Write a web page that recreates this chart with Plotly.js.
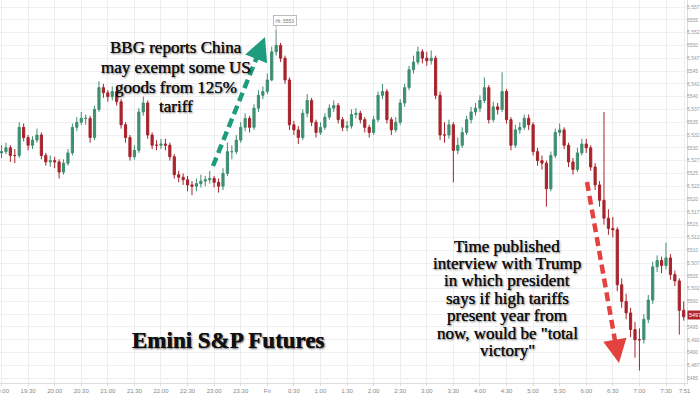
<!DOCTYPE html>
<html>
<head>
<meta charset="utf-8">
<script src="https://cdn.plot.ly/plotly-3.0.1.min.js"></script>
<style>
html,body{margin:0;padding:0;background:#fff;}
#chart{width:700px;height:394px;}
</style>
</head>
<body>
<div id="chart"></div>
<script>
// 5-minute candles, Emini S&P futures, 19:00 -> 7:50 (minutes after 19:00)
var stepMinutes = 5;

var opens = [5529.0,5529.25,5530.0,5528.5,5528.5,5534.0,5532.0,5530.5,5531.5,5532.5,
5528.5,5527.25,5527.5,5527.25,5525.25,5527.0,5529.0,5534.0,5535.0,5535.75,
5535.75,5532.0,5537.5,5541.75,5540.75,5540.0,5541.0,5539.0,5534.5,5532.0,
5528.25,5529.5,5537.0,5538.75,5532.5,5530.5,5530.5,5530.75,5530.5,5528.25,
5524.75,5524.25,5523.75,5522.75,5522.5,5523.0,5523.5,5523.75,5524.0,5523.25,
5522.5,5525.0,5529.25,5529.25,5531.5,5534.0,5535.75,5534.0,5537.75,5540.25,
5541.0,5543.25,5548.75,5550.0,5547.5,5543.25,5534.5,5533.5,5532.0,5536.75,
5539.25,5535.0,5533.0,5534.0,5536.0,5537.75,5538.25,5535.5,5534.0,5534.25,
5536.5,5536.75,5535.5,5534.0,5533.0,5535.5,5540.25,5541.0,5535.5,5533.5,
5535.0,5538.75,5541.75,5545.25,5546.75,5548.75,5547.5,5547.0,5547.5,5540.25,
5532.5,5532.5,5534.5,5529.5,5530.5,5533.0,5535.5,5537.0,5537.75,5539.25,
5541.75,5535.5,5538.0,5537.5,5541.0,5535.5,5530.5,5533.5,5534.0,5535.75,
5534.5,5529.25,5527.5,5527.0,5522.0,5528.5,5533.0,5533.5,5530.5,5527.25,
5525.75,5529.0,5530.75,5530.0,5526.25,5522.75,5519.75,5516.25,5514.25,5514.0,
5503.25,5500.0,5497.75,5494.5,5492.5,5492.5,5496.5,5500.25,5506.75,5508.0,
5507.0,5508.5,5505.25,5504.0,5498.25];

var highs = [5530.5,5531.0,5530.5,5529.75,5535.0,5534.75,5532.5,5532.25,5533.75,5533.0,
5529.0,5528.5,5528.25,5527.75,5527.75,5529.75,5534.75,5536.0,5537.0,5536.5,
5536.25,5538.25,5543.0,5542.5,5541.25,5542.0,5541.5,5539.5,5535.0,5532.5,
5530.5,5537.75,5540.0,5539.25,5533.0,5531.5,5531.75,5531.75,5531.0,5528.75,
5525.5,5525.0,5524.5,5523.5,5524.0,5524.75,5524.5,5525.5,5524.5,5524.0,
5526.0,5531.0,5530.5,5532.5,5535.0,5536.75,5536.25,5538.5,5541.25,5542.0,
5544.5,5549.75,5553.0,5550.5,5548.0,5543.75,5535.25,5534.25,5537.5,5540.5,
5539.75,5535.5,5535.0,5536.75,5538.5,5539.25,5538.75,5536.0,5535.25,5537.5,
5537.75,5537.25,5536.0,5534.5,5536.25,5541.0,5542.5,5541.5,5536.0,5536.0,
5539.5,5542.5,5546.0,5548.0,5549.75,5549.25,5548.75,5549.0,5548.0,5541.0,
5535.0,5535.5,5535.0,5532.0,5534.0,5536.25,5538.0,5538.75,5540.25,5543.75,
5542.25,5539.0,5538.75,5544.75,5541.5,5536.0,5534.5,5535.0,5536.5,5536.5,
5535.0,5530.0,5528.5,5527.5,5529.25,5533.75,5534.75,5534.0,5531.0,5528.0,
5530.0,5531.75,5531.75,5530.5,5527.0,5523.5,5537.0,5518.0,5516.5,5514.5,
5504.5,5501.5,5498.75,5496.0,5494.75,5497.5,5501.25,5507.75,5509.0,5508.75,
5511.5,5509.25,5506.0,5504.5,5500.0];

var lows = [5528.0,5528.75,5527.25,5527.0,5528.0,5531.25,5529.5,5529.75,5531.0,5527.75,
5526.5,5526.25,5526.0,5524.0,5524.75,5526.5,5528.5,5533.25,5534.5,5534.5,
5531.0,5531.5,5537.0,5539.75,5539.0,5539.25,5538.25,5533.75,5531.0,5527.5,
5527.75,5529.0,5536.25,5531.75,5529.75,5529.5,5529.75,5529.5,5527.5,5524.0,
5523.25,5522.75,5521.5,5520.75,5521.5,5522.25,5522.5,5523.0,5522.25,5521.25,
5521.75,5524.5,5527.75,5528.75,5531.0,5533.25,5533.0,5533.5,5537.0,5539.5,
5540.5,5543.0,5548.0,5546.75,5542.5,5533.5,5532.5,5530.75,5531.5,5536.0,
5534.25,5532.0,5532.5,5533.5,5535.5,5537.0,5534.75,5533.25,5533.25,5533.75,
5535.75,5534.75,5533.0,5532.0,5532.5,5535.0,5539.5,5534.75,5532.5,5533.0,
5534.5,5538.0,5541.25,5544.5,5546.25,5546.5,5546.0,5546.25,5539.5,5531.5,
5531.0,5531.75,5523.25,5528.75,5530.0,5532.5,5534.75,5536.25,5537.0,5538.75,
5534.75,5535.0,5536.5,5537.0,5534.75,5529.5,5530.0,5532.75,5533.5,5533.5,
5528.5,5526.5,5525.75,5518.5,5521.5,5528.0,5532.25,5529.75,5526.25,5524.75,
5525.25,5528.5,5529.0,5525.5,5521.75,5518.5,5515.0,5513.0,5512.5,5502.0,
5498.75,5496.5,5493.0,5489.0,5486.5,5491.75,5495.75,5499.5,5505.75,5505.5,
5506.25,5504.25,5503.0,5493.5,5496.25];

var closes = [5529.25,5530.0,5528.5,5528.5,5534.0,5532.0,5530.5,5531.5,5532.5,5528.5,
5527.25,5527.5,5527.25,5525.25,5527.0,5529.0,5534.0,5535.0,5535.75,5535.75,
5532.0,5537.5,5541.75,5540.75,5540.0,5541.0,5539.0,5534.5,5532.0,5528.25,
5529.5,5537.0,5538.75,5532.5,5530.5,5530.5,5530.75,5530.5,5528.25,5524.75,
5524.25,5523.75,5522.75,5522.5,5523.0,5523.5,5523.75,5524.0,5523.25,5522.5,
5525.0,5529.25,5529.25,5531.5,5534.0,5535.75,5534.0,5537.75,5540.25,5541.0,
5543.25,5548.75,5550.0,5547.5,5543.25,5534.5,5533.5,5532.0,5536.75,5539.25,
5535.0,5533.0,5534.0,5536.0,5537.75,5538.25,5535.5,5534.0,5534.25,5536.5,
5536.75,5535.5,5534.0,5533.0,5535.5,5540.25,5541.0,5535.5,5533.5,5535.0,
5538.75,5541.75,5545.25,5546.75,5548.75,5547.5,5547.0,5547.5,5540.25,5532.5,
5532.5,5534.5,5529.5,5530.5,5533.0,5535.5,5537.0,5537.75,5539.25,5541.75,
5535.5,5538.0,5537.5,5541.0,5535.5,5530.5,5533.5,5534.0,5535.75,5534.5,
5529.25,5527.5,5527.0,5522.0,5528.5,5533.0,5533.5,5530.5,5527.25,5525.75,
5529.0,5530.75,5530.0,5526.25,5522.75,5519.75,5516.25,5514.25,5514.0,5503.25,
5500.0,5497.75,5494.5,5492.5,5492.5,5496.5,5500.25,5506.75,5508.0,5507.0,
5508.5,5505.25,5504.0,5498.25,5497.0];

var tickMinutes = [0,30,60,90,120,150,180,210,240,270,300,330,360,390,420,450,480,510,540,570,600,630,660,690,720,750,771];
var tickLabels = ["19:00","19:30","20:00","20:30","21:00","21:30","22:00","22:30","23:00","23:30","Fri","0:30","1:00","1:30","2:00","2:30","3:00","3:30","4:00","4:30","5:00","5:30","6:00","6:30","7:00","7:30","7:51"];

var hiValue = 5553;
var lastPrice = 5497.25;

var minutes = [];
for (var i = 0; i < closes.length; i++) minutes.push(i * stepMinutes);

// plot-area pixel helpers for annotation placement
var PW = 687, PH = 383;
function px(x){ return x / PW; }
function py(y){ return 1 - y / PH; }

var trace = {
  type: 'candlestick',
  x: minutes, open: opens, high: highs, low: lows, close: closes,
  increasing: {line: {color: '#3e8f70', width: 1}, fillcolor: '#3e8f70'},
  decreasing: {line: {color: '#a8232b', width: 1}, fillcolor: '#a8232b'},
  whiskerwidth: 0,
  hoverinfo: 'skip',
  showlegend: false
};

var hiIdx = 0;
for (var j = 0; j < highs.length; j++) if (highs[j] > highs[hiIdx]) hiIdx = j;

var serif = 'Liberation Serif, Times New Roman, serif';
var shadow = '1px 1px 2px rgba(0,0,0,0.6), 0 0 0.6px rgba(0,0,0,0.9)';

var annotations = [];
function line(text, x, y, size, bold){
  annotations.push({xref:'paper', yref:'paper', x:px(x), y:py(y), text:text, showarrow:false,
    xanchor:'center', yanchor:'middle', borderpad:0,
    font:{family:serif, size:size, color:'#111', weight: bold ? 700 : 400, shadow: shadow}});
}
var bbg = ["BBG reports China","may exempt some US","goods from 125%","tariff"];
var bbgY = [47, 67, 87, 107];
for (var a = 0; a < bbg.length; a++) line(bbg[a], 176, bbgY[a], 17, false);

var tm = ["Time published","interview with Trump","in which president","says if high tariffs","present year from","now, would be \"total","victory\""];
for (var b = 0; b < tm.length; b++) line(tm[b], 507, 246 + b * 17.4, 17, false);

line("Emini S&P Futures", 228, 340, 23, true);

// Hi label
annotations.push({xref:'x', yref:'paper', x: minutes[hiIdx], y: py(20.5), xanchor:'left', yanchor:'middle',
  text:'Hi: ' + hiValue, showarrow:false, font:{family:'Arial, Liberation Sans, sans-serif', size:5, color:'#777'},
  bgcolor:'#fff', bordercolor:'#bbb', borderwidth:1, borderpad:1.5, xshift:-3});

// last price tag
annotations.push({xref:'paper', yref:'y', x:1, y:lastPrice, xanchor:'left', yanchor:'middle',
  text:lastPrice.toFixed(2), showarrow:false, font:{family:'Arial, Liberation Sans, sans-serif', size:5.5, color:'#fff'},
  bgcolor:'#b0262e', borderpad:1, xshift:0});

// arrowheads
function head(tipX, tipY, tailX, tailY, color){
  var dx = tailX - tipX, dy = tailY - tipY, L = Math.sqrt(dx*dx+dy*dy);
  annotations.push({xref:'paper', yref:'paper', x:px(tipX), y:py(tipY), ax: dx/L*15, ay: dy/L*15,
    text:'', showarrow:true, arrowhead:2, arrowsize:1.05, arrowwidth:4.5, arrowcolor:color, standoff:0});
}
var teal = '#1f9c7d', red = '#e3423f';
head(265, 37, 213, 166, teal);
head(619, 363, 587, 182, red);

var shapes = [
  {type:'line', xref:'paper', yref:'paper', x0:px(213), y0:py(166), x1:px(261), y1:py(47),
   line:{color:teal, width:4.5, dash:'9px,5px'}},
  {type:'line', xref:'paper', yref:'paper', x0:px(587), y0:py(182), x1:px(617), y1:py(352),
   line:{color:red, width:4.5, dash:'9px,5px'}},
  {type:'line', xref:'x', yref:'paper', x0:minutes[hiIdx], x1:minutes[hiIdx], y0:py(44), y1:py(24.5),
   line:{color:'#bbb', width:1}}
];

var layout = {
  width:700, height:394,
  margin:{l:0, r:13, t:0, b:11, pad:0},
  paper_bgcolor:'#fff', plot_bgcolor:'#fff',
  showlegend:false,
  xaxis:{type:'linear', range:[-1.7, 773.7], rangeslider:{visible:false},
    tickmode:'array', tickvals:tickMinutes, ticktext:tickLabels, ticklabeloverflow:'allow',
    tickfont:{family:'Arial, Liberation Sans, sans-serif', size:6, color:'#888'},
    showgrid:true, gridcolor:'#ededed', gridwidth:1, zeroline:false,
    showline:true, linecolor:'#ddd', linewidth:1, ticks:'outside', ticklen:2, tickcolor:'#ddd', fixedrange:true},
  yaxis:{side:'right', range:[5484.06, 5558.87], tick0:5485, dtick:2.5, ticklabeloverflow:'allow',
    tickfont:{family:'Arial, Liberation Sans, sans-serif', size:5, color:'#999'},
    showgrid:true, gridcolor:'#f0f0f0', gridwidth:1, zeroline:false,
    showline:true, linecolor:'#ddd', linewidth:1, ticks:'', ticklabelstandoff:-2, fixedrange:true},
  annotations:annotations,
  shapes:shapes
};

Plotly.newPlot('chart', [trace], layout, {staticPlot:true, displayModeBar:false});
</script>
</body>
</html>
